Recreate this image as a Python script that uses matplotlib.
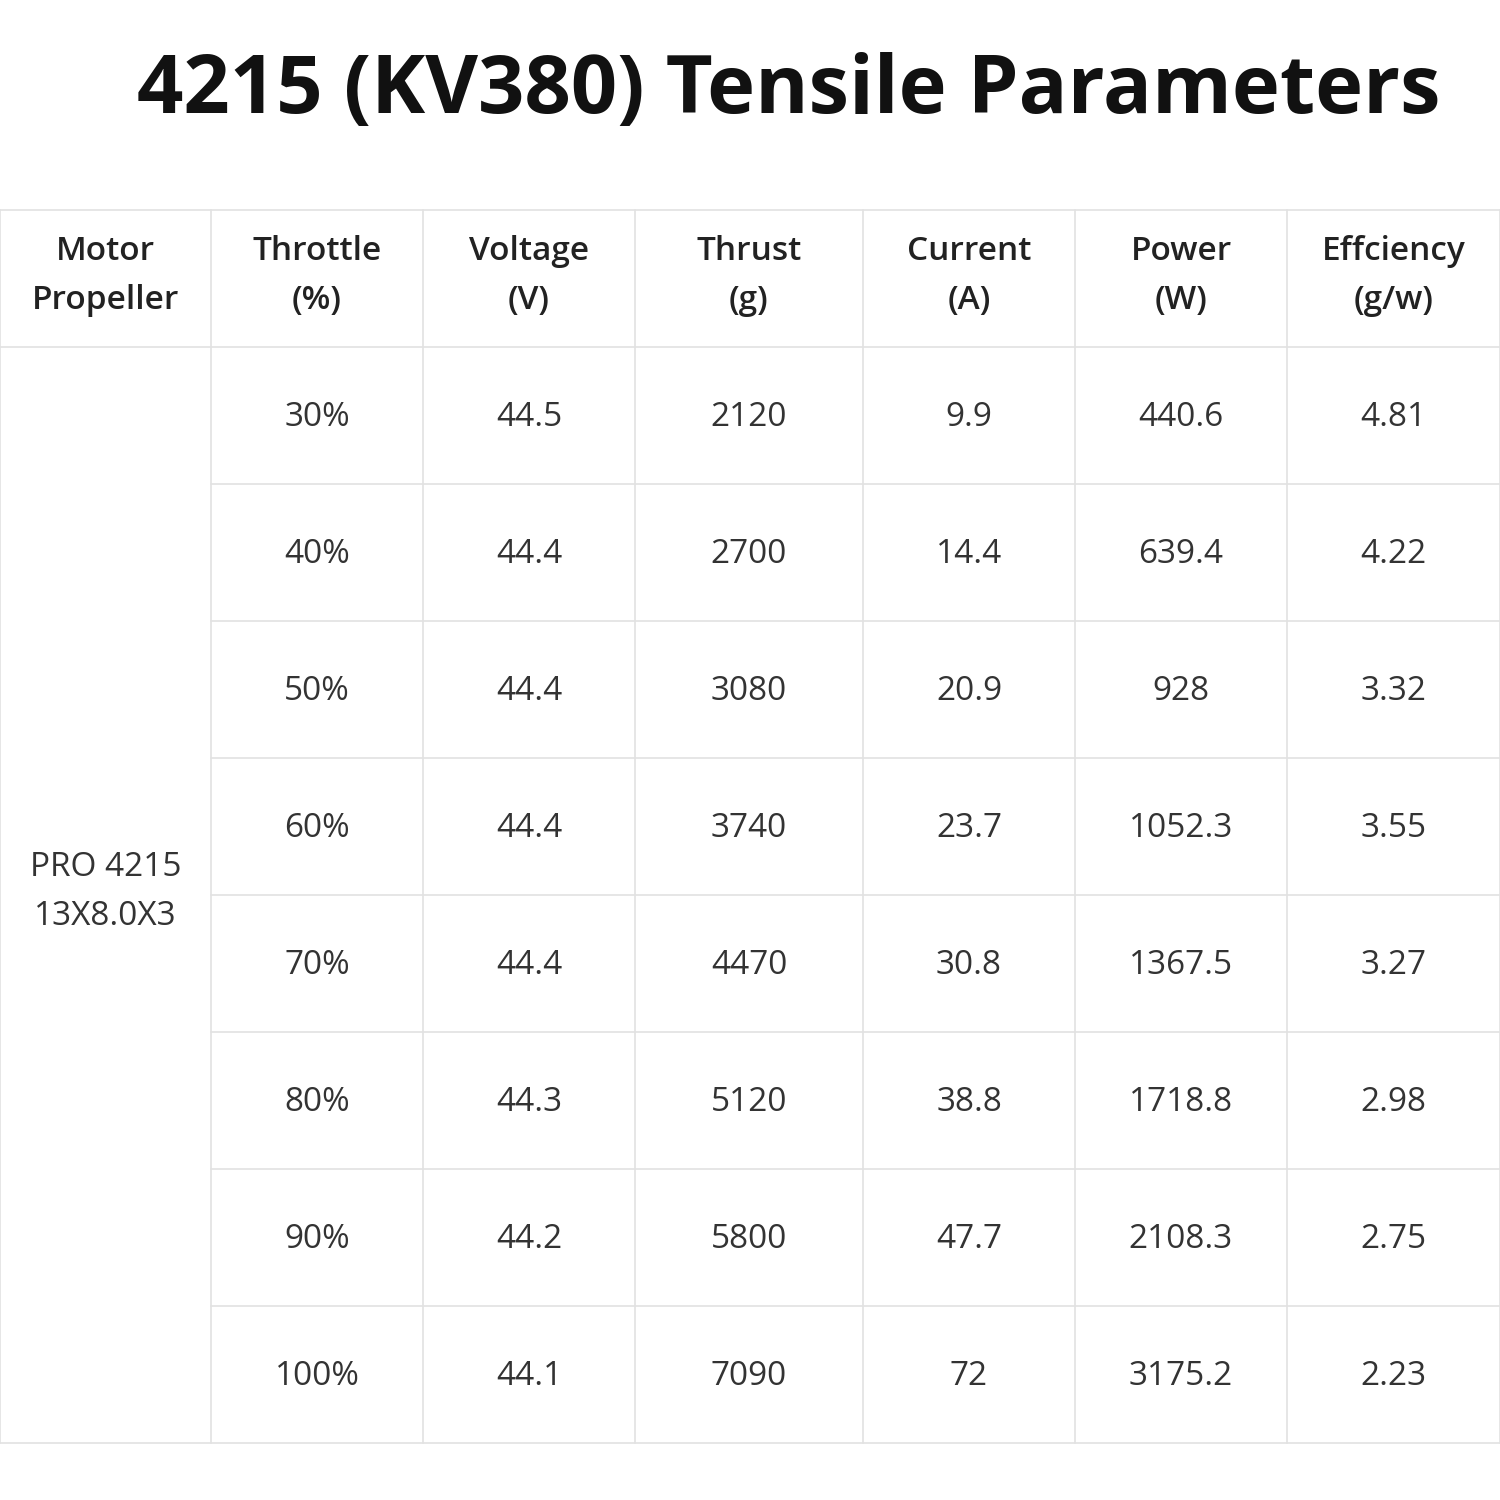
import matplotlib.pyplot as plt

title = "4215 (KV380) Tensile Parameters"
headers = ["Motor\nPropeller", "Throttle\n(%)", "Voltage\n(V)", "Thrust\n(g)",
           "Current\n(A)", "Power\n(W)", "Effciency\n(g/w)"]
motor = "PRO 4215\n13X8.0X3"
throttle = ["30%", "40%", "50%", "60%", "70%", "80%", "90%", "100%"]
voltage = ["44.5", "44.4", "44.4", "44.4", "44.4", "44.3", "44.2", "44.1"]
thrust = ["2120", "2700", "3080", "3740", "4470", "5120", "5800", "7090"]
current = ["9.9", "14.4", "20.9", "23.7", "30.8", "38.8", "47.7", "72"]
power = ["440.6", "639.4", "928", "1052.3", "1367.5", "1718.8", "2108.3", "3175.2"]
eff = ["4.81", "4.22", "3.32", "3.55", "3.27", "2.98", "2.75", "2.23"]

# layout in pixels
col_x = [0, 211, 423, 635, 863, 1075, 1287, 1500]
top, head_bot, row_h = 210, 347, 137
bottom = head_bot + row_h * len(throttle)
line_c = "#e2e2e2"

fig = plt.figure(figsize=(15, 15), dpi=100)
ax = fig.add_axes([0, 0, 1, 1])
ax.set_xlim(0, 1500)
ax.set_ylim(1500, 0)
ax.axis("off")

ax.text(789, 92, title, ha="center", va="center", fontsize=58.5,
        fontweight="bold", family="Open Sans", color="#111111")

for y in [top, head_bot, bottom]:
    ax.plot([0, 1500], [y, y], color=line_c, lw=1.2)
for i in range(1, len(throttle)):
    y = head_bot + i * row_h
    ax.plot([col_x[1], 1500], [y, y], color=line_c, lw=1.2)
for x in col_x:
    ax.plot([x, x], [top, bottom], color=line_c, lw=1.2)

centers = [(col_x[i] + col_x[i + 1]) / 2 for i in range(len(col_x) - 1)]
for c, h in zip(centers, headers):
    ax.text(c, 276, h, ha="center", va="center", fontsize=24,
            fontweight="semibold", family="Open Sans", color="#222222",
            linespacing=1.65)

ax.text(centers[0], 892, motor, ha="center", va="center",
        fontsize=24, family="Open Sans", color="#333333", linespacing=1.65)

columns = [throttle, voltage, thrust, current, power, eff]
for j, col in enumerate(columns):
    for i, v in enumerate(col):
        ax.text(centers[j + 1], head_bot + (i + 0.5) * row_h + 2, v, ha="center",
                va="center", fontsize=24, family="Open Sans", color="#333333")

fig.savefig("out.png", dpi=100, facecolor="white")
